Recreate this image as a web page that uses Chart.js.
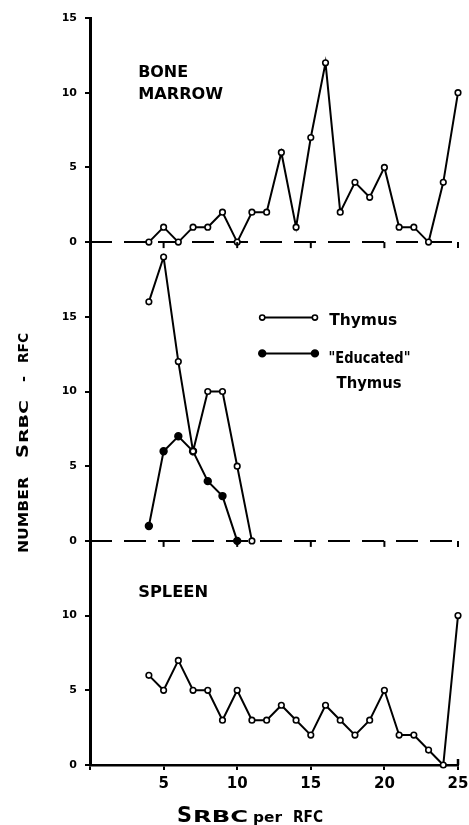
<!DOCTYPE html>
<html>
<head>
<meta charset="utf-8">
<script src="https://cdn.jsdelivr.net/npm/chart.js@4/dist/chart.umd.min.js"></script>
<style>
  html, body { margin: 0; padding: 0; background: #fff; }
  #wrap { width: 469px; height: 825px; }
</style>
</head>
<body>
<div id="wrap"><canvas id="rfcChart" width="469" height="825"></canvas></div>
<script>
// SRBC per RFC, counts
const xValues = [4, 5, 6, 7, 8, 9, 10, 11, 12, 13, 14, 15, 16, 17, 18, 19, 20, 21, 22, 23, 24, 25];
const boneMarrow = [0, 1, 0, 1, 1, 2, 0, 2, 2, 6, 1, 7, 12, 2, 4, 3, 5, 1, 1, 0, 4, 10];
const thymusX = [4, 5, 6, 7, 8, 9, 10, 11];
const thymus = [16, 19, 12, 6, 10, 10, 5, 0];
const educatedX = [4, 5, 6, 7, 8, 9, 10];
const educatedThymus = [1, 6, 7, 6, 4, 3, 0];
const spleen = [6, 5, 7, 5, 5, 3, 5, 3, 3, 4, 3, 2, 4, 3, 2, 3, 5, 2, 2, 1, 0, 10];
const xTicks = [5, 10, 15, 20, 25];
const baselineX = [0, 25];

const FONT = '"DejaVu Sans", "Liberation Sans", sans-serif';

function pts(xs, ys) {
    return xs.map((x, i) => ({ x: x, y: ys[i] }));
}

// draw bold text stretched to a given width (the original face is an extended bold)
function wideText(ctx, text, x, y, size, width) {
    ctx.font = 'bold ' + size + 'px ' + FONT;
    const w = ctx.measureText(text).width;
    ctx.save();
    ctx.translate(x, y);
    ctx.scale(width / w, 1);
    ctx.textAlign = 'left';
    ctx.textBaseline = 'alphabetic';
    ctx.fillText(text, 0, 0);
    ctx.restore();
}

const seriesStyle = {
    borderColor: '#000',
    borderWidth: 2,
    pointRadius: 2.8,
    pointBorderWidth: 1.6,
    pointBorderColor: '#000',
    pointBackgroundColor: '#fff',
    tension: 0,
    clip: false,
    order: 1
};

const baselineStyle = {
    borderColor: '#000',
    borderWidth: 2,
    borderDash: [22, 12],
    pointRadius: 0,
    clip: false,
    order: 5
};

function yAxis(max, weight, stackWeight, keepMax) {
    return {
        type: 'linear',
        position: 'left',
        stack: 'panels',
        stackWeight: stackWeight,
        weight: weight,
        min: 0,
        max: max,
        afterBuildTicks: function(scale) {
            scale.ticks = scale.ticks.filter(t => t.value % 5 === 0 && t.value <= keepMax);
        },
        afterFit: function(scale) { scale.width = 90; },
        ticks: {
            stepSize: 5,
            color: '#000',
            padding: 8,
            font: { family: FONT, size: 11, weight: 'bold' }
        },
        grid: {
            drawOnChartArea: false,
            drawTicks: true,
            tickLength: 5,
            color: '#000',
            lineWidth: 2
        },
        border: { color: '#000', width: 3 }
    };
}

const overlay = {
    id: 'overlay',
    afterDatasetsDraw(chart) {
        const ctx = chart.ctx;
        const sx = chart.scales.x;
        const yB = chart.scales.yBone;
        const yT = chart.scales.yThy;
        const yS = chart.scales.ySpl;
        ctx.save();
        ctx.fillStyle = '#000';
        ctx.strokeStyle = '#000';

        // little down ticks on the dashed zero lines
        ctx.lineWidth = 2;
        [yB, yT].forEach(sc => {
            const y0 = sc.getPixelForValue(0);
            xTicks.forEach(v => {
                const px = sx.getPixelForValue(v);
                ctx.beginPath();
                ctx.moveTo(px, y0);
                ctx.lineTo(px, y0 + 6);
                ctx.stroke();
            });
        });
        // the bottom axis turns up at 25
        const xEnd = sx.getPixelForValue(25);
        const yEnd = yS.getPixelForValue(0);
        ctx.lineWidth = 2.5;
        ctx.beginPath();
        ctx.moveTo(xEnd, yEnd);
        ctx.lineTo(xEnd, yEnd - 6);
        ctx.stroke();

        // panel labels
        wideText(ctx, 'BONE', sx.getPixelForValue(3.27), yB.getPixelForValue(11.05), 16, 50);
        wideText(ctx, 'MARROW', sx.getPixelForValue(3.27), yB.getPixelForValue(9.6), 16, 85);
        wideText(ctx, 'SPLEEN', sx.getPixelForValue(3.27), yS.getPixelForValue(11.25), 16, 70);

        // legend inside the middle panel
        const lx0 = sx.getPixelForValue(11.7);
        const lx1 = sx.getPixelForValue(15.28);
        const ly1 = yT.getPixelForValue(14.95);
        const ly2 = yT.getPixelForValue(12.55);
        ctx.lineWidth = 2;
        [[ly1, '#fff', 2.6], [ly2, '#000', 3.4]].forEach(([ly, fill, r]) => {
            ctx.beginPath();
            ctx.moveTo(lx0, ly);
            ctx.lineTo(lx1, ly);
            ctx.stroke();
            [lx0, lx1].forEach(px => {
                ctx.beginPath();
                ctx.arc(px, ly, r, 0, Math.PI * 2);
                ctx.fillStyle = fill;
                ctx.fill();
                ctx.lineWidth = 1.6;
                ctx.stroke();
                ctx.lineWidth = 2;
            });
        });
        ctx.fillStyle = '#000';
        wideText(ctx, 'Thymus', sx.getPixelForValue(16.25), yT.getPixelForValue(14.45), 15, 68);
        wideText(ctx, '"Educated"', sx.getPixelForValue(16.2), yT.getPixelForValue(11.9), 15, 82);
        wideText(ctx, 'Thymus', sx.getPixelForValue(16.75), yT.getPixelForValue(10.25), 15, 65);

        // x axis title  "SRBC per RFC"
        const ax = chart.chartArea;
        const base = 822;
        wideText(ctx, 'S', ax.left + 87, base, 21, 15);
        wideText(ctx, 'RBC', ax.left + 103, base, 16, 55);
        wideText(ctx, 'per', ax.left + 163, base, 14, 29);
        wideText(ctx, 'RFC', ax.left + 203, base, 16, 30);

        // y axis title, rotated, read bottom to top
        const parts = [
            ['NUMBER', 553, 14, 76],
            ['S', 458, 16, 14],
            ['RBC', 443, 13, 43],
            ['-', 382, 14, 6],
            ['RFC', 363, 14, 30]
        ];
        parts.forEach(([t, yStart, size, w]) => {
            ctx.save();
            ctx.translate(28, yStart);
            ctx.rotate(-Math.PI / 2);
            wideText(ctx, t, 0, 0, size, w);
            ctx.restore();
        });

        ctx.restore();
    }
};

const ctx = document.getElementById('rfcChart').getContext('2d');
const rfcChart = new Chart(ctx, {
    type: 'line',
    data: {
        datasets: [
            Object.assign({ label: 'Bone marrow', yAxisID: 'yBone', data: pts(xValues, boneMarrow) }, seriesStyle),
            Object.assign({ label: 'Thymus', yAxisID: 'yThy', data: pts(thymusX, thymus) }, seriesStyle),
            Object.assign({ label: '"Educated" Thymus', yAxisID: 'yThy', data: pts(educatedX, educatedThymus) }, seriesStyle,
                { pointBackgroundColor: '#000', pointRadius: 3.4 }),
            Object.assign({ label: 'Spleen', yAxisID: 'ySpl', data: pts(xValues, spleen) }, seriesStyle),
            Object.assign({ label: 'base1', yAxisID: 'yBone', data: pts(baselineX, [0, 0]) }, baselineStyle),
            Object.assign({ label: 'base2', yAxisID: 'yThy', data: pts(baselineX, [0, 0]) }, baselineStyle)
        ]
    },
    options: {
        responsive: false,
        animation: false,
        devicePixelRatio: 1,
        layout: { padding: { top: 18, right: 11, bottom: 0, left: 0 } },
        plugins: {
            legend: { display: false },
            tooltip: { enabled: false }
        },
        scales: {
            x: {
                type: 'linear',
                min: 0,
                max: 25,
                afterFit: function(scale) {
                    scale.height = 60;
                    scale.paddingLeft = 0;
                    scale.paddingRight = 0;
                },
                ticks: {
                    stepSize: 5,
                    color: '#000',
                    padding: 5,
                    font: { family: FONT, size: 15, weight: 'bold' },
                    callback: v => (v === 0 ? '' : v)
                },
                grid: {
                    drawOnChartArea: false,
                    drawTicks: true,
                    tickLength: 5,
                    color: '#000',
                    lineWidth: 2
                },
                border: { color: '#000', width: 2.5 }
            },
            yBone: yAxis(15, 3, 15, 15),
            yThy: yAxis(20, 2, 20, 15),
            ySpl: yAxis(15, 1, 15, 10)
        }
    },
    plugins: [overlay]
});
</script>
</body>
</html>
